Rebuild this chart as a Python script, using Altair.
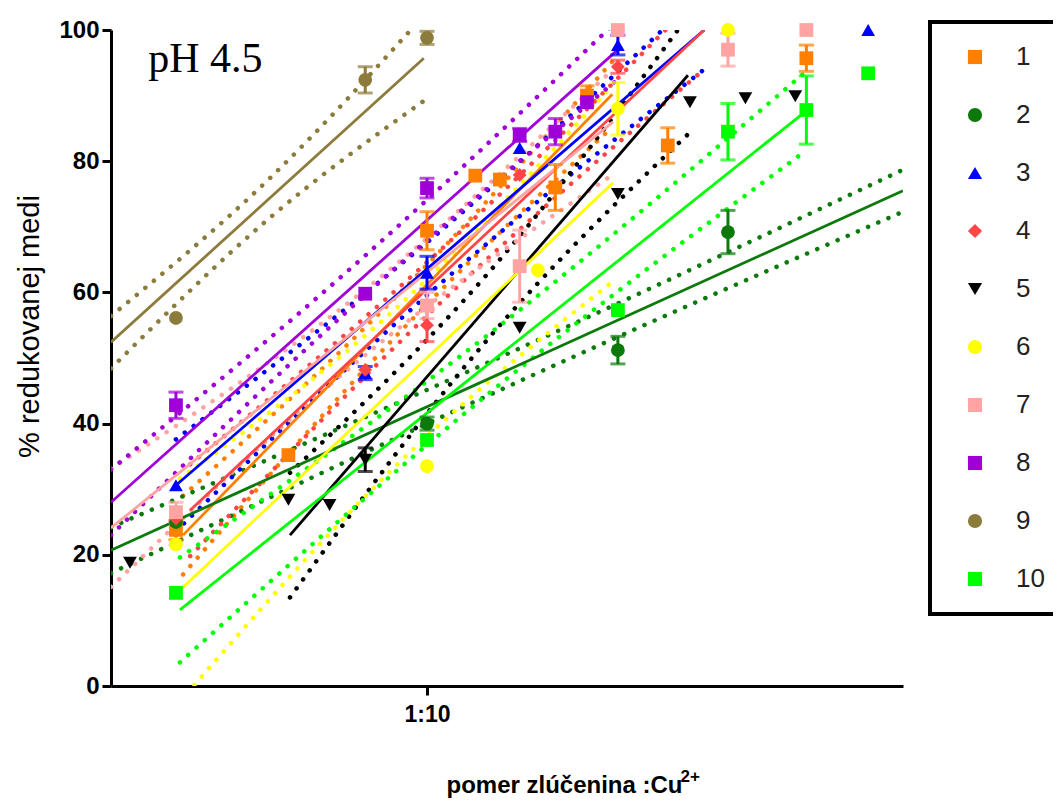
import altair as alt
import pandas as pd

# ---------------- data ----------------
SERIES = ["1", "2", "3", "4", "5", "6", "7", "8", "9", "10"]
COLORS = ["#FF8000", "#0B7A0B", "#0000FF", "#FF4545", "#000000",
          "#FFFF00", "#FFA3A3", "#A000D8", "#8C7B3B", "#00FF00"]
SHAPES = ["square", "circle", "triangle-up", "diamond", "triangle-down",
          "circle", "square", "square", "circle", "square"]

# x in axis position units (0..100), 1:10 at 39.9 ; y in % reduced copper
S1_X = [8.2, 22.4, 39.9, 46.0, 49.1, 56.1, 60.1, 70.3, 87.8]
S1_Y = [23.8, 35.2, 69.4, 77.8, 77.2, 76.0, 90.0, 82.4, 95.7]
S1_E = [1.5, 0, 2.9, 0, 0, 3.5, 1.5, 2.7, 2.0]
S2_X = [8.2, 39.9, 64.0, 77.9]
S2_Y = [25.0, 40.0, 51.2, 69.2]
S2_E = [0, 1.0, 2.1, 3.3]
S3_X = [8.2, 32.1, 39.9, 51.6, 64.0, 95.6]
S3_Y = [30.6, 47.7, 63.0, 82.0, 97.7, 100.0]
S3_E = [0, 1.0, 2.5, 0, 1.5, 0]
S4_X = [8.2, 32.1, 39.9, 51.6, 64.0]
S4_Y = [25.5, 48.2, 55.0, 77.9, 94.4]
S4_E = [0, 0, 2.5, 0, 1.0]
S5_X = [2.4, 22.4, 27.6, 32.1, 51.6, 64.0, 73.1, 80.1, 86.4]
S5_Y = [18.8, 28.4, 27.6, 34.5, 54.6, 75.0, 89.0, 89.6, 89.9]
S5_E = [0, 0, 0, 1.8, 0, 0, 0, 0, 0]
S6_X = [8.2, 39.9, 53.9, 64.0, 77.9]
S6_Y = [21.6, 33.5, 63.4, 88.0, 100.0]
S6_E = [0, 0, 0, 4.0, 0]
S7_X = [8.2, 39.9, 51.6, 64.0, 77.9, 87.8]
S7_Y = [26.5, 58.0, 64.0, 100.0, 97.0, 100.0]
S7_E = [1.5, 2.0, 5.5, 0, 2.5, 0]
S8_X = [8.2, 32.1, 39.9, 51.6, 56.1, 60.1]
S8_Y = [42.8, 59.8, 75.9, 84.0, 84.5, 89.0]
S8_E = [2.0, 0, 1.5, 1.0, 2.0, 0]
S9_X = [8.2, 32.1, 39.9]
S9_Y = [56.1, 92.4, 98.8]
S9_E = [0, 2.0, 1.0]
S10_X = [8.2, 39.9, 64.0, 77.9, 87.8, 95.6]
S10_Y = [14.2, 37.5, 57.3, 84.5, 87.8, 93.4]
S10_E = [0, 0, 0, 4.3, 5.2, 0]

# fitted regression lines (end points)
FIT_X0 = [9.1, 0.0, 8.2, 10.0, 22.6, 8.7, 0.0, 0.0, 0.0, 8.7]
FIT_Y0 = [23.0, 20.7, 30.6, 26.8, 23.0, 14.6, 24.1, 28.0, 52.4, 11.6]
FIT_X1 = [63.3, 100.0, 74.9, 74.9, 72.85, 63.4, 63.4, 63.9, 39.5, 87.4]
FIT_Y1 = [90.2, 75.5, 100.0, 100.0, 93.1, 76.7, 86.0, 96.9, 95.7, 87.3]

# dotted confidence bands (left, middle, right)
B1_X, B1_UP, B1_LO = [9.1, 36.2, 63.3], [29.0, 59.6, 95.2], [17.0, 53.6, 85.2]
B2_X, B2_UP, B2_LO = [0.0, 50.0, 100.0], [24.2, 50.6, 78.7], [17.2, 45.6, 72.3]
B3_X, B3_UP, B3_LO = [8.2, 41.55, 74.9], [37.6, 69.3, 106.0], [23.6, 61.3, 94.0]
B4_X, B4_UP, B4_LO = [10.0, 42.45, 74.9], [33.8, 67.4, 106.0], [19.8, 59.4, 94.0]
B5_X, B5_UP, B5_LO = [22.6, 47.7, 72.85], [32.5, 63.05, 102.1], [13.5, 53.05, 84.1]
B6_X, B6_UP, B6_LO = [8.7, 36.05, 63.4], [31.6, 57.65, 91.7], [-2.4, 33.65, 61.7]
B7_X, B7_UP, B7_LO = [0.0, 31.7, 63.4], [33.1, 60.05, 94.0], [15.1, 50.05, 78.0]
B8_X, B8_UP, B8_LO = [0.0, 31.95, 63.9], [33.0, 65.45, 101.4], [23.0, 59.45, 92.4]
B9_X, B9_UP, B9_LO = [0.0, 19.75, 39.5], [56.4, 77.05, 102.2], [48.4, 71.05, 89.2]
B10_X, B10_UP, B10_LO = [8.7, 48.05, 87.4], [19.6, 53.95, 93.3], [3.6, 44.95, 81.3]

X_TICK_VALUES = [39.9]
X_TICK_LABEL = "1:10"
Y_TICK_VALUES = [0, 20, 40, 60, 80, 100]
ANN_X, ANN_Y, ANN_TEXT = [4.7], [93.6], ["pH 4.5"]
SUP_X, SUP_Y, SUP_TEXT = [71.9], [-14.6], ["2+"]

# ---------------- tables ----------------
PTS = [(S1_X, S1_Y, S1_E), (S2_X, S2_Y, S2_E), (S3_X, S3_Y, S3_E), (S4_X, S4_Y, S4_E),
       (S5_X, S5_Y, S5_E), (S6_X, S6_Y, S6_E), (S7_X, S7_Y, S7_E), (S8_X, S8_Y, S8_E),
       (S9_X, S9_Y, S9_E), (S10_X, S10_Y, S10_E)]
BANDS = [(B1_X, B1_UP, B1_LO), (B2_X, B2_UP, B2_LO), (B3_X, B3_UP, B3_LO),
         (B4_X, B4_UP, B4_LO), (B5_X, B5_UP, B5_LO), (B6_X, B6_UP, B6_LO),
         (B7_X, B7_UP, B7_LO), (B8_X, B8_UP, B8_LO), (B9_X, B9_UP, B9_LO),
         (B10_X, B10_UP, B10_LO)]

pt_rows, err_rows, fit_rows, band_rows = [], [], [], []
for i, s in enumerate(SERIES):
    xs, ys, es = PTS[i]
    for x, y, e in zip(xs, ys, es):
        pt_rows.append({"s": s, "x": x, "y": y, "order": i})
        if e > 0:
            err_rows.append({"s": s, "col": COLORS[i], "x": x, "lo": y - e, "hi": y + e, "order": i})
    fit_rows.append({"s": s, "col": COLORS[i], "x": FIT_X0[i], "y": FIT_Y0[i], "k": s, "o": 0})
    fit_rows.append({"s": s, "col": COLORS[i], "x": FIT_X1[i], "y": FIT_Y1[i], "k": s, "o": 1})
    bx, bu, bl = BANDS[i]
    for j in range(len(bx)):
        band_rows.append({"col": COLORS[i], "x": bx[j], "y": bu[j], "k": s + "u", "o": j})
        band_rows.append({"col": COLORS[i], "x": bx[j], "y": bl[j], "k": s + "l", "o": j})

pts = pd.DataFrame(pt_rows)
errs = pd.DataFrame(err_rows)
fits = pd.DataFrame(fit_rows)
bands = pd.DataFrame(band_rows)
ann = pd.DataFrame({"x": ANN_X, "y": ANN_Y, "t": ANN_TEXT})
sup = pd.DataFrame({"x": SUP_X, "y": SUP_Y, "t": SUP_TEXT})

FONT = "Liberation Sans"
xscale = alt.Scale(domain=[0, 100], nice=False, zero=False)
yscale = alt.Scale(domain=[0, 100], nice=False, zero=False)

x_axis = alt.Axis(values=X_TICK_VALUES, labelExpr=f"'{X_TICK_LABEL}'", grid=False,
                  domainColor="black", domainWidth=3, tickColor="black", tickWidth=3,
                  tickSize=9, labelFont=FONT, labelFontWeight="bold", labelFontSize=23,
                  labelColor="black", labelPadding=8,
                  title="pomer zlúčenina :Cu", titleFont=FONT, titleFontWeight="bold",
                  titleFontSize=24, titleColor="black", titleX=453, titleY=106,
                  titleAlign="center", titleBaseline="alphabetic")
y_axis = alt.Axis(values=Y_TICK_VALUES, grid=False, domainColor="black", domainWidth=3,
                  tickColor="black", tickWidth=3, tickSize=9, labelFont=FONT,
                  labelFontWeight="bold", labelFontSize=24, labelColor="black", labelPadding=3,
                  title="% redukovanej medi", titleFont=FONT, titleFontWeight="normal",
                  titleFontSize=29, titleColor="black", titlePadding=14, titleY=296)

X = alt.X("x:Q", scale=xscale, axis=x_axis)
Y = alt.Y("y:Q", scale=yscale, axis=y_axis)

band_layer = alt.Chart(bands).mark_line(
    strokeDash=[0.1, 11], strokeCap="round", strokeWidth=4.5, clip=True, interpolate="monotone"
).encode(x=alt.X("x:Q", scale=xscale), y=alt.Y("y:Q", scale=yscale),
         color=alt.Color("col:N", scale=None), detail="k:N", order="o:Q")

fit_layer = alt.Chart(fits).mark_line(strokeWidth=2.8, clip=True).encode(
    x=alt.X("x:Q", scale=xscale), y=alt.Y("y:Q", scale=yscale),
    color=alt.Color("col:N", scale=None), detail="k:N", order="o:Q")

err_rule = alt.Chart(errs).mark_rule(strokeWidth=3).encode(
    x=alt.X("x:Q", scale=xscale), y=alt.Y("lo:Q", scale=yscale), y2="hi:Q",
    color=alt.Color("col:N", scale=None))
err_lo = alt.Chart(errs).mark_tick(orient="horizontal", size=15, thickness=3).encode(
    x=alt.X("x:Q", scale=xscale), y=alt.Y("lo:Q", scale=yscale),
    color=alt.Color("col:N", scale=None))
err_hi = alt.Chart(errs).mark_tick(orient="horizontal", size=15, thickness=3).encode(
    x=alt.X("x:Q", scale=xscale), y=alt.Y("hi:Q", scale=yscale),
    color=alt.Color("col:N", scale=None))

legend = alt.Legend(title=None, orient="none", legendX=819, legendY=-8, direction="vertical",
                    labelFont=FONT, labelFontSize=26, labelColor="#222222", symbolSize=200,
                    symbolStrokeWidth=0, symbolOpacity=1, padding=22, rowPadding=32,
                    labelOffset=28, symbolOffset=10, strokeColor="black", fillColor="white")

pt_layer = alt.Chart(pts).mark_point(filled=True, opacity=1, fillOpacity=1, size=190,
                                     clip=False).encode(
    x=X, y=Y,
    color=alt.Color("s:N", scale=alt.Scale(domain=SERIES, range=COLORS), sort=SERIES, legend=legend),
    shape=alt.Shape("s:N", scale=alt.Scale(domain=SERIES, range=SHAPES), sort=SERIES, legend=legend),
    opacity=alt.value(1),
    order="order:Q")

text_layer = alt.Chart(ann).mark_text(font="Liberation Serif", fontSize=42, align="left",
                                      baseline="alphabetic", color="black").encode(
    x=alt.X("x:Q", scale=xscale), y=alt.Y("y:Q", scale=yscale), text="t:N")

sup_layer = alt.Chart(sup).mark_text(font=FONT, fontSize=17, fontWeight="bold", align="left",
                                     baseline="alphabetic", color="black", clip=False).encode(
    x=alt.X("x:Q", scale=xscale), y=alt.Y("y:Q", scale=yscale), text="t:N")

chart = alt.layer(band_layer, fit_layer, err_rule, err_lo, err_hi, pt_layer, text_layer,
                  sup_layer).properties(
    width=792, height=656,
    autosize=alt.AutoSizeParams(type="none"),
    padding={"left": 103, "top": 22, "right": 150, "bottom": 112},
).configure_view(stroke=None).configure_legend(strokeWidth=4, symbolOpacity=1
).configure_point(opacity=1, fillOpacity=1)

chart.save("out.html", embed_options={"renderer": "svg", "actions": False})
